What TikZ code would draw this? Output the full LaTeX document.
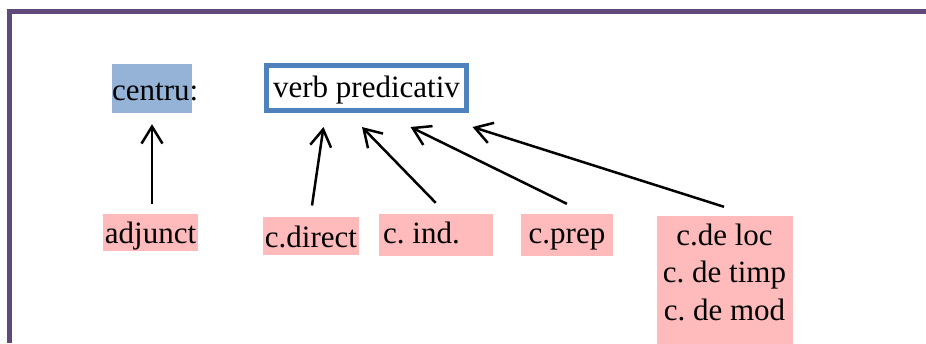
\documentclass[tikz,border=0pt]{standalone}
\usepackage{fontspec}
\setmainfont{Liberation Serif}
\usetikzlibrary{arrows.meta,calc}
\definecolor{frameP}{RGB}{96,74,123}
\definecolor{cfill}{RGB}{149,179,215}
\definecolor{vblue}{RGB}{79,129,189}
\definecolor{pinkf}{RGB}{255,187,187}
\frenchspacing
\tikzset{
  txt/.style={inner sep=0pt, font=\fontsize{31}{37}\selectfont\frenchspacing, anchor=base},
  pbox/.style={fill=pinkf, draw=none, inner sep=0pt},
  arr/.style={line width=2.5pt, -{Straight Barb[length=17pt,width=21pt]}},
}
\begin{document}
\begin{tikzpicture}[x=1pt,y=-1pt]
\useasboundingbox (0,0) rectangle (926,343);
% frame
\draw[frameP, line width=5pt] (9.5,343) -- (9.5,11) -- (926,11);
% boxes
\node[fill=cfill, inner sep=0pt, minimum width=80pt, minimum height=49pt] (cen) at (152,88.5) {};
\node[draw=vblue, fill=white, line width=5pt, inner sep=0pt, minimum width=200pt, minimum height=45pt] (verb) at (366.5,88) {};
\node[pbox, minimum width=95pt, minimum height=37pt] (adj) at (150.5,232.5) {};
\node[pbox, minimum width=96pt, minimum height=38.3pt] (cdir) at (311,235.85) {};
\node[pbox, minimum width=114pt, minimum height=41.7pt] (cind) at (435.7,234.85) {};
\node[pbox, minimum width=91.7pt, minimum height=42pt] (cprep) at (566.85,235) {};
\node[pbox, minimum width=136pt, minimum height=130pt] (multi) at (724.7,281) {};
% texts
\node[txt, anchor=base west] (tcen) at (112,100) {centru:};
\node[txt] (tverb) at (366.5,97) {verb predicativ};
\node[txt] (tadj) at (150.5,243) {adjunct};
\node[txt] (tcdir) at (311,247) {c.direct};
\node[txt, anchor=base west] (tcind) at (383,243.5) {c. ind.};
\node[txt] (tcprep) at (567,243.5) {c.prep};
\node[txt] (tm1) at (724.5,245) {c.de loc};
\node[txt] (tm2) at (724.5,282) {c. de timp};
\node[txt] (tm3) at (724.5,320) {c. de mod};
% arrows
\draw[arr] ($(adj.north)+(1.5,-10)$) -- ($(cen.south)+(0,11)$);
\draw[arr] ($(cdir.north)+(1,-11)$) -- ($(verb.south west)+(59.5,14)$);
\draw[arr] ($(cind.north)+(0,-11)$) -- ($(verb.south west)+(98,14)$);
\draw[arr] ($(cprep.north)+(0,-10)$) -- ($(verb.south west)+(146.5,14)$);
\draw[arr] ($(multi.north)+(-0.7,-9)$) -- ($(verb.south west)+(208.5,14)$);
\end{tikzpicture}
\end{document}
